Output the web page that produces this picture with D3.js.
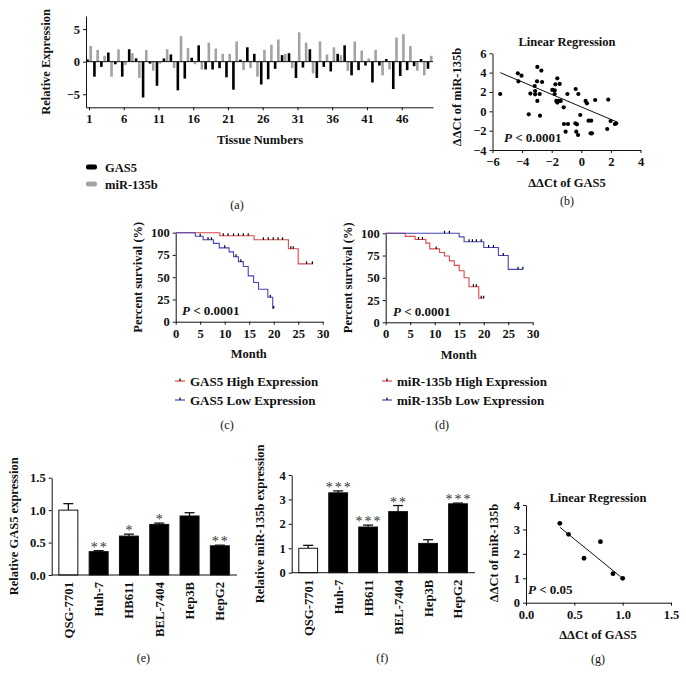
<!DOCTYPE html>
<html><head><meta charset="utf-8">
<script src="https://cdn.jsdelivr.net/npm/d3@7"></script>
<style>body{margin:0;background:#fff}svg{display:block}</style>
</head><body>
<script>
// ---------- DATA ----------
const tissueTicks = [1, 6, 11, 16, 21, 26, 31, 36, 41, 46];
const gas5Rel = [0.35,-2.3,-0.8,1.4,-0.4,-2.3,1.9,0.5,-5.5,-0.3,
                 -3.7,0.5,1.1,-4.4,-2.6,0.6,2.5,-1.2,-1.2,-1.0,
                 -2.4,-4.3,0.3,2.2,1.2,-3.5,-2.7,-1.1,1.0,1.3,
                 -2.5,-0.9,1.9,-2.5,-0.8,-1.5,1.2,2.5,-2.1,-1.3,
                 -0.6,-3.2,-0.6,0.4,-4.2,-2.2,-1.3,-0.7,0.4,-1.1];
const mirRel  = [2.4,1.8,0.9,-2.3,1.9,-0.5,1.3,-2.5,1.8,-1.4,
                 -0.3,1.9,-1.0,3.9,2.1,-0.4,-1.2,2.9,2.0,1.2,
                 1.2,3.1,-1.3,-1.0,-2.3,1.8,2.6,3.4,1.2,-1.0,
                 4.5,2.9,-1.8,3.1,1.1,2.2,1.0,-1.4,3.1,1.7,
                 0.5,1.8,-2.1,-1.2,3.7,4.2,2.4,-1.4,-2.1,0.9];

const scatBx = [-5.48,-4.29,-4.04,-4.25,-3.55,-3.44,-3.12,-2.97,-2.70,-2.99,-2.65,-3.15,-3.12,-2.97,-2.81,-2.79,
                -1.96,-1.80,-1.80,-1.75,-1.62,-1.69,-1.53,-1.39,-1.62,-1.46,-1.19,-1.17,-1.06,-0.94,-0.90,
                -0.38,-0.40,-0.29,-0.34,-0.22,-0.20,-0.07,0.29,0.38,0.49,0.63,0.72,0.67,0.94,1.75,1.82,1.98,2.27,2.36];
const scatBy = [1.79,3.93,3.69,3.10,-0.31,1.83,1.76,4.59,4.21,3.10,3.03,2.62,2.10,1.07,1.79,-0.45,
                2.21,2.17,1.79,2.79,3.41,1.07,1.07,1.07,0.90,2.83,0.41,-1.31,-2.10,1.79,-1.31,
                2.31,-1.24,-1.34,-2.10,-2.45,1.79,-0.38,1.07,0.83,-0.97,-2.28,-2.28,-0.97,1.17,-1.83,1.21,-1.00,-1.31,-1.24];
const fitBx = [-5.48, 2.36];
const fitBy = [4.0, -1.07];

// Kaplan-Meier (c)
const gasHighT = [0, 9, 16, 23, 25, 28];
const gasHighS = [100, 96.5, 92, 82, 65, 65];
const gasHighC = [9.7,10.7,11.8,12.8,13.8,14.8,17.9,18.9,19.9,20.9,21.8,23.5,24.0,26.7,27.9];
const gasLowT = [0, 4, 5.6, 7.7, 8.9, 10.9, 11.8, 12.8, 13.8, 14.8, 15.9, 16.9, 18.8, 19.8, 20];
const gasLowS = [100, 96, 92, 88, 83, 78.5, 73, 67.5, 62, 51.5, 44, 36.5, 27.5, 15, 15];
const gasLowC = [5, 6.6, 7.3, 10, 12.3, 13.3, 19.3, 20];
// Kaplan-Meier (d)
const mirHighT = [0, 4, 6, 8.2, 9, 11, 12, 13, 14, 15, 16, 17, 19, 20];
const mirHighS = [100, 96.5, 93, 89, 82.5, 78.5, 74.5, 69, 64, 58, 50, 40, 27, 27];
const mirHighC = [6.7, 7.5, 10.3, 17.9, 18.5, 19.5, 20];
const mirLowT = [0, 15, 16, 20, 23, 25, 28];
const mirLowS = [100, 96, 90.5, 84, 75, 59.5, 59.5];
const mirLowC = [12, 13, 17, 17.7, 18.5, 19.5, 21, 22, 24, 27, 28];
const kmXTicks = [0, 5, 10, 15, 20, 25, 30];
const kmYTicks = [0, 25, 50, 75, 100];

// Cell lines (e), (f)
const cellLines = ["QSG-7701", "Huh-7", "HB611", "BEL-7404", "Hep3B", "HepG2"];
const gas5Cell = [1.0, 0.36, 0.60, 0.78, 0.91, 0.45];
const gas5Err  = [0.10, 0.015, 0.03, 0.02, 0.05, 0.01];
const gas5Star = ["", "**", "*", "*", "", "**"];
const mirCell  = [1.0, 3.27, 1.87, 2.50, 1.20, 2.82];
const mirErr   = [0.12, 0.08, 0.08, 0.25, 0.15, 0.03];
const mirStar  = ["", "***", "***", "**", "", "***"];
// (g)
const scatGx = [0.35, 0.44, 0.60, 0.77, 0.90, 1.00];
const scatGy = [3.25, 2.80, 1.82, 2.50, 1.19, 1.00];
const fitGx = [0.35, 0.98];
const fitGy = [3.09, 1.06];

// ---------- DRAW ----------
const FONT = "'Liberation Serif','DejaVu Serif',serif";
const RED = "#d94a4a", BLUE = "#4646b8", GRAY = "#a3a3a3";
const TFS = 12.5;   // tick font size
const LFS = 12.5;   // label font size
const svg = d3.select("body").append("svg").attr("width", 686).attr("height", 685)
  .style("font-family", FONT);
svg.append("rect").attr("width", 686).attr("height", 685).attr("fill", "#fff");

function styleAxis(g, fs) {
  g.selectAll("path,line").attr("stroke", "#111").attr("stroke-width", 1);
  g.selectAll("text").attr("font-family", FONT).attr("font-weight", "bold")
    .attr("font-size", fs || TFS).attr("fill", "#111");
}
function txt(x, y, s, o = {}) {
  const t = svg.append("text").attr("x", x).attr("y", y).text(s)
    .attr("font-size", o.fs || LFS).attr("font-weight", o.w || "bold")
    .attr("text-anchor", o.a || "middle").attr("fill", "#111");
  if (o.rot) t.attr("transform", `rotate(-90,${x},${y})`);
  return t;
}
function ptxt(x, y, s) {
  const t = svg.append("text").attr("x", x).attr("y", y).attr("font-size", 13)
    .attr("font-weight", "bold").attr("fill", "#111");
  t.append("tspan").attr("font-style", "italic").text("P");
  t.append("tspan").text(" < " + s);
}

// ---- Panel (a)
{
  const x = d3.scaleLinear().domain([0.57, 50.5]).range([86, 433]);
  const y = d3.scaleLinear().domain([-7, 7]).range([107.3, 16]);
  const g = svg.append("g");
  const bw = 2.6;
  g.selectAll(".gb").data(gas5Rel).join("rect")
    .attr("x", (d, i) => x(i + 1) - bw - 0.2).attr("width", bw)
    .attr("y", d => y(Math.max(0, d))).attr("height", d => Math.abs(y(d) - y(0)))
    .attr("fill", "#000");
  g.selectAll(".mb").data(mirRel).join("rect")
    .attr("x", (d, i) => x(i + 1) + 0.4).attr("width", bw)
    .attr("y", d => y(Math.max(0, d))).attr("height", d => Math.abs(y(d) - y(0)))
    .attr("fill", GRAY);
  g.append("line").attr("x1", x.range()[0]).attr("x2", x.range()[1])
    .attr("y1", y(0)).attr("y2", y(0)).attr("stroke", "#111");
  const ax = g.append("g").attr("transform", "translate(0,107.3)")
    .call(d3.axisBottom(x).tickValues(tissueTicks).tickSize(3).tickSizeOuter(0).tickPadding(4));
  styleAxis(ax);
  const ay = g.append("g").attr("transform", "translate(86,0)")
    .call(d3.axisLeft(y).tickValues([-5, 0, 5]).tickSize(3).tickSizeOuter(0).tickPadding(3));
  styleAxis(ay);
  txt(50, 62, "Relative Expression", { rot: true });
  txt(260, 144, "Tissue Numbers");
  svg.append("rect").attr("x", 86).attr("y", 164.5).attr("width", 11).attr("height", 5).attr("rx", 2).attr("fill", "#000");
  svg.append("rect").attr("x", 86).attr("y", 181.5).attr("width", 11).attr("height", 5).attr("rx", 2).attr("fill", GRAY);
  txt(105, 171.5, "GAS5", { a: "start" });
  txt(105, 188.5, "miR-135b", { a: "start" });
  txt(237, 209, "(a)", { w: "normal", fs: 12 });
}

// ---- Panel (b)
{
  const x = d3.scaleLinear().domain([-6, 4]).range([492.5, 640.5]);
  const y = d3.scaleLinear().domain([-4, 6]).range([150, 53.3]);
  const g = svg.append("g");
  const ax = g.append("g").attr("transform", "translate(0,150)")
    .call(d3.axisBottom(x).tickValues([-6, -4, -2, 0, 2, 4]).tickSize(3).tickSizeOuter(0).tickPadding(4));
  styleAxis(ax);
  const ay = g.append("g").attr("transform", "translate(492.5,0)")
    .call(d3.axisLeft(y).tickValues([-4, -2, 0, 2, 4, 6]).tickSize(3).tickSizeOuter(0).tickPadding(3));
  styleAxis(ay);
  g.append("line").attr("x1", x(fitBx[0])).attr("y1", y(fitBy[0]))
    .attr("x2", x(fitBx[1])).attr("y2", y(fitBy[1])).attr("stroke", "#111").attr("stroke-width", 1);
  g.selectAll("circle").data(scatBx).join("circle")
    .attr("cx", d => x(d)).attr("cy", (d, i) => y(scatBy[i])).attr("r", 2.1).attr("fill", "#000");
  txt(567, 46, "Linear Regression");
  txt(461, 97, "ΔΔCt of miR-135b", { rot: true });
  txt(567, 187, "ΔΔCt of GAS5");
  txt(567, 205, "(b)", { w: "normal", fs: 12 });
  ptxt(504, 142, "0.0001");
}

// ---- KM helper
function km(x0, yTop, yBot, xLab, series, pPos, monthY) {
  const x = d3.scaleLinear().domain([0, 30]).range([x0, x0 + 147]);
  const y = d3.scaleLinear().domain([0, 100]).range([yBot, yTop]);
  const g = svg.append("g");
  const ax = g.append("g").attr("transform", `translate(0,${yBot})`)
    .call(d3.axisBottom(x).tickValues(kmXTicks).tickSize(3).tickSizeOuter(0).tickPadding(4));
  styleAxis(ax);
  const ay = g.append("g").attr("transform", `translate(${x0},0)`)
    .call(d3.axisLeft(y).tickValues(kmYTicks).tickSize(3).tickSizeOuter(0).tickPadding(3));
  styleAxis(ay);
  const line = d3.line().x(d => x(d[0])).y(d => y(d[1])).curve(d3.curveStepAfter);
  series.forEach(s => {
    const pts = s.t.map((t, i) => [t, s.s[i]]);
    g.append("path").attr("d", line(pts)).attr("fill", "none").attr("stroke", s.c).attr("stroke-width", 1.1);
    const at = t => { let v = s.s[0]; s.t.forEach((tt, i) => { if (tt <= t) v = s.s[i]; }); return v; };
    g.selectAll(null).data(s.cens).join("line")
      .attr("x1", d => x(d)).attr("x2", d => x(d))
      .attr("y1", d => y(at(d))).attr("y2", d => y(at(d)) - 2.5)
      .attr("stroke", "#000").attr("stroke-width", 1.2);
  });
  txt(xLab, (yTop + yBot) / 2, "Percent survival (%)", { rot: true });
  txt(x0 + 73, monthY, "Month");
  ptxt(pPos[0], pPos[1], "0.0001");
}
km(175.7, 232.7, 321.7, 142, [
  { t: gasHighT, s: gasHighS, cens: gasHighC, c: RED },
  { t: gasLowT, s: gasLowS, cens: gasLowC, c: BLUE }], [182, 315], 358);
km(385.7, 233.3, 322.3, 352, [
  { t: mirHighT, s: mirHighS, cens: mirHighC, c: RED },
  { t: mirLowT, s: mirLowS, cens: mirLowC, c: BLUE }], [393, 316], 359);

// KM legends
function kmLeg(x, y, col, label) {
  svg.append("line").attr("x1", x).attr("x2", x + 10).attr("y1", y).attr("y2", y).attr("stroke", col).attr("stroke-width", 1.2);
  svg.append("line").attr("x1", x + 5).attr("x2", x + 5).attr("y1", y).attr("y2", y - 2.5).attr("stroke", "#000").attr("stroke-width", 1.2);
  txt(x + 15, y + 4.5, label, { a: "start", fs: 13 });
}
kmLeg(175, 381, RED, "GAS5 High Expression");
kmLeg(175, 400, BLUE, "GAS5 Low Expression");
kmLeg(382, 381, RED, "miR-135b High Expression");
kmLeg(382, 400, BLUE, "miR-135b Low Expression");
txt(227, 429, "(c)", { w: "normal", fs: 12 });
txt(442, 429, "(d)", { w: "normal", fs: 12 });

// ---- Bar helper (e), (f)
function bars(x0, x1, yTop, yBot, dmax, ticks, fmt, vals, errs, stars, ylab, ylabX, plab) {
  const x = d3.scaleBand().domain(cellLines).range([x0 + 1.5, x1]).paddingInner(0.34).paddingOuter(0.17);
  const y = d3.scaleLinear().domain([0, dmax]).range([yBot, yTop]);
  const g = svg.append("g");
  const bw = x.bandwidth();
  g.selectAll(".eb").data(vals).join("line")
    .attr("x1", (d, i) => x(cellLines[i]) + bw / 2).attr("x2", (d, i) => x(cellLines[i]) + bw / 2)
    .attr("y1", d => y(d)).attr("y2", (d, i) => y(d + errs[i])).attr("stroke", "#111").attr("stroke-width", 1.3);
  g.selectAll(".ec").data(vals).join("line")
    .attr("x1", (d, i) => x(cellLines[i]) + bw / 2 - 5).attr("x2", (d, i) => x(cellLines[i]) + bw / 2 + 5)
    .attr("y1", (d, i) => y(d + errs[i])).attr("y2", (d, i) => y(d + errs[i])).attr("stroke", "#111").attr("stroke-width", 1.3);
  g.selectAll(".b").data(vals).join("rect")
    .attr("x", (d, i) => x(cellLines[i]) + 0.5).attr("width", bw - 1)
    .attr("y", d => y(d)).attr("height", d => yBot - y(d))
    .attr("fill", (d, i) => i === 0 ? "#fff" : "#000").attr("stroke", "#111").attr("stroke-width", 1);
  g.selectAll(".st").data(stars).join("text")
    .attr("x", (d, i) => x(cellLines[i]) + bw / 2 + 1).attr("y", (d, i) => y(vals[i] + errs[i]) + 1)
    .attr("text-anchor", "middle").attr("font-size", 14).attr("fill", "#333").attr("letter-spacing", 2).text(d => d);
  const ay = g.append("g").attr("transform", `translate(${x0},0)`)
    .call(d3.axisLeft(y).tickValues(ticks).tickFormat(fmt).tickSize(3).tickSizeOuter(0).tickPadding(3));
  styleAxis(ay);
  g.append("line").attr("x1", x0).attr("x2", x1 + 2).attr("y1", yBot).attr("y2", yBot).attr("stroke", "#111");
  cellLines.forEach(c => {
    const cx = x(c) + bw / 2, ty = yBot + 7;
    g.append("text").attr("transform", `translate(${cx},${ty}) rotate(-90)`)
      .attr("dy", "0.35em").attr("text-anchor", "end").attr("font-size", 12.7)
      .attr("font-weight", "bold").attr("fill", "#111").text(c);
  });
  txt(ylabX, (yTop + yBot) / 2, ylab, { rot: true });
  txt((x0 + x1) / 2, 662, plab, { w: "normal", fs: 12 });
}
bars(51.7, 235, 477.7, 575, 1.5, [0, 0.5, 1.0, 1.5], d3.format(".1f"), gas5Cell, gas5Err, gas5Star,
  "Relative GAS5 expression", 18, "(e)");
bars(291.7, 473, 475, 572.7, 4, [0, 1, 2, 3, 4], d3.format("d"), mirCell, mirErr, mirStar,
  "Relative miR-135b expression", 264, "(f)");

// ---- Panel (g)
{
  const x = d3.scaleLinear().domain([0, 1.5]).range([526, 671]);
  const y = d3.scaleLinear().domain([0, 4]).range([602.7, 505]);
  const g = svg.append("g");
  const ax = g.append("g").attr("transform", "translate(0,602.7)")
    .call(d3.axisBottom(x).tickValues([0, 0.5, 1.0, 1.5]).tickFormat(d3.format(".1f")).tickSize(3).tickSizeOuter(0).tickPadding(4));
  styleAxis(ax);
  const ay = g.append("g").attr("transform", "translate(526,0)")
    .call(d3.axisLeft(y).tickValues([0, 1, 2, 3, 4]).tickFormat(d3.format("d")).tickSize(3).tickSizeOuter(0).tickPadding(3));
  styleAxis(ay);
  g.append("line").attr("x1", x(fitGx[0])).attr("y1", y(fitGy[0]))
    .attr("x2", x(fitGx[1])).attr("y2", y(fitGy[1])).attr("stroke", "#111");
  g.selectAll("circle").data(scatGx).join("circle")
    .attr("cx", d => x(d)).attr("cy", (d, i) => y(scatGy[i])).attr("r", 2.4).attr("fill", "#000");
  txt(598, 502, "Linear Regression");
  txt(498, 553, "ΔΔCt of miR-135b", { rot: true });
  txt(598, 639, "ΔΔCt of GAS5");
  txt(598, 663, "(g)", { w: "normal", fs: 12 });
  ptxt(528, 594, "0.05");
}
</script>
</body></html>
